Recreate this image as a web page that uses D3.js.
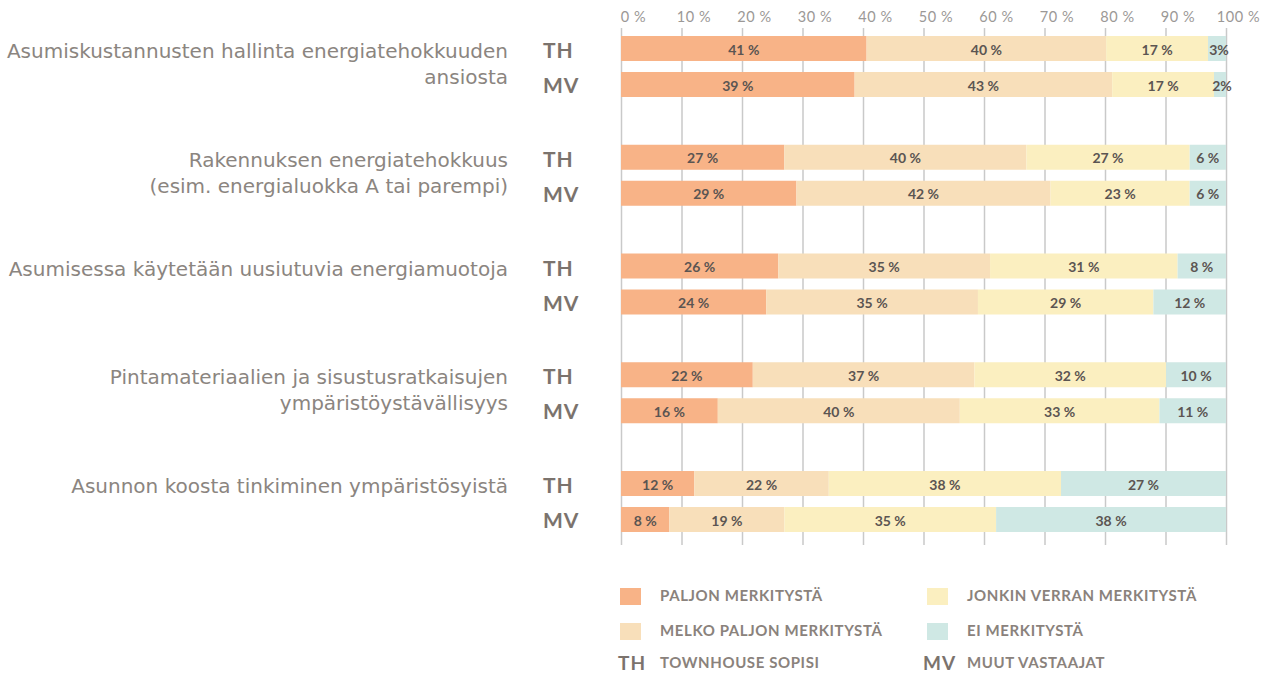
<!DOCTYPE html>
<html>
<head>
<meta charset="utf-8">
<script src="https://cdn.jsdelivr.net/npm/d3@7"></script>
<style>
  body { margin: 0; background: #fff; }
  svg { display: block; }
</style>
</head>
<body>
<svg id="chart" width="1271" height="675"></svg>
<script>
// categories (each split into lines as in the original)
const categories = [
  ["Asumiskustannusten hallinta energiatehokkuuden", "ansiosta"],
  ["Rakennuksen energiatehokkuus", "(esim. energialuokka A tai parempi)"],
  ["Asumisessa käytetään uusiutuvia energiamuotoja"],
  ["Pintamateriaalien ja sisustusratkaisujen", "ympäristöystävällisyys"],
  ["Asunnon koosta tinkiminen ympäristösyistä"]
]
const groups = ["TH", "MV"]
const series = ["PALJON MERKITYSTÄ", "MELKO PALJON MERKITYSTÄ", "JONKIN VERRAN MERKITYSTÄ", "EI MERKITYSTÄ"]
const colors = ["#f8b387", "#f8dfba", "#fbefc0", "#cfe8e4"]

// values per category: [paljon, melko, jonkin, ei]
const thValues = [
  [41, 40, 17, 3],
  [27, 40, 27, 6],
  [26, 35, 31, 8],
  [22, 37, 32, 10],
  [12, 22, 38, 27]
]
const mvValues = [
  [39, 43, 17, 2],
  [29, 42, 23, 6],
  [24, 35, 29, 12],
  [16, 40, 33, 11],
  [8, 19, 35, 38]
]
const ticks = [0, 10, 20, 30, 40, 50, 60, 70, 80, 90, 100]
const groupNames = { TH: "TOWNHOUSE SOPISI", MV: "MUUT VASTAAJAT" }

const svg = d3.select("#chart")

const x = d3.scaleLinear().domain([0, 100]).range([621, 1226])
const yGroup = d3.scaleBand()
    .domain(d3.range(categories.length))
    .range([36, 36 + 108.75 * categories.length])
const yRow = d3.scaleBand().domain(groups).range([0, 61]).paddingInner(11 / 36)

const gridTop = 28, gridBottom = 545

//axis with gridlines
const axis = svg.append("g")
    .attr("transform", "translate(0," + gridTop + ")")
    .call(d3.axisTop(x).tickValues(ticks).tickSize(-(gridBottom - gridTop)).tickFormat(d => d + " %").tickPadding(6))
axis.select(".domain").remove()
axis.selectAll(".tick line").attr("stroke", "#c9c9c9").attr("stroke-width", 1.5)
axis.selectAll(".tick text")
    .attr("dx", 12)
    .attr("fill", "#9b9896")
    .style("font-family", "Lato, sans-serif")
    .style("font-size", "14.5px")
    .style("letter-spacing", "0.6px")

// rows
const rows = []
categories.forEach((c, i) => {
    rows.push({ cat: i, grp: "TH", vals: thValues[i] })
    rows.push({ cat: i, grp: "MV", vals: mvValues[i] })
})

const rowG = svg.selectAll("g.row")
    .data(rows)
    .join("g")
    .attr("class", "row")
    .attr("transform", d => "translate(0," + (yGroup(d.cat) + yRow(d.grp)) + ")")

const bh = yRow.bandwidth()

rowG.each(function (d) {
    const total = d3.sum(d.vals)
    let acc = 0
    const segs = d.vals.map((v, k) => {
        const s = { v: v, k: k, x0: acc / total * 100, x1: (acc + v) / total * 100 }
        acc += v
        return s
    })
    const g = d3.select(this)
    g.selectAll("rect")
        .data(segs)
        .join("rect")
        .attr("x", s => x(s.x0))
        .attr("width", s => x(s.x1) - x(s.x0))
        .attr("y", 0)
        .attr("height", bh)
        .attr("fill", s => colors[s.k])
    g.selectAll("text.val")
        .data(segs)
        .join("text")
        .attr("class", "val")
        .attr("x", s => (x(s.x0) + x(s.x1)) / 2 + (s.v < 5 ? 2 : 0))
        .attr("y", bh / 2 + 1)
        .attr("dy", "0.36em")
        .attr("text-anchor", "middle")
        .attr("fill", "#5b5552")
        .style("font-family", "Lato, sans-serif")
        .style("font-weight", "bold")
        .style("font-size", "14px")
        .text(s => s.v < 5 ? s.v + "%" : s.v + " %")
    g.append("text")
        .attr("x", 543)
        .attr("y", bh / 2 + (d.grp === "MV" ? 1 : 2))
        .attr("dy", "0.36em")
        .attr("fill", "#7b736d")
        .style("font-family", "Lato, sans-serif")
        .style("font-weight", "bold")
        .style("font-size", "21px")
        .style("letter-spacing", "1px")
        .text(d.grp)
})

// category labels
svg.selectAll("text.cat")
    .data(categories)
    .join("text")
    .attr("class", "cat")
    .attr("x", 508)
    .attr("y", (d, i) => yGroup(i) + yRow("TH") + bh / 2 + 2.5)
    .attr("text-anchor", "end")
    .attr("fill", "#8b8580")
    .style("font-family", "'DejaVu Sans', sans-serif")
    .style("font-size", "20px")
    .selectAll("tspan")
    .data(d => d)
    .join("tspan")
    .attr("x", 508)
    .attr("dy", (t, j) => j === 0 ? "0.36em" : "26px")
    .text(t => t)

// legend
const legendItems = series.map((s, i) => ({
    name: s, color: colors[i], col: i < 2 ? 0 : 1,
    y: i % 2 === 0 ? 596 : 631
}))
const leg = svg.selectAll("g.leg")
    .data(legendItems)
    .join("g")
    .attr("class", "leg")
    .attr("transform", d => "translate(" + (d.col === 0 ? 620 : 927) + "," + d.y + ")")
leg.append("rect")
    .attr("x", 0).attr("y", -8)
    .attr("width", 21).attr("height", 17)
    .attr("fill", d => d.color)
leg.append("text")
    .attr("x", 40)
    .attr("dy", "0.36em")
    .attr("fill", "#8a827c")
    .style("font-family", "Lato, sans-serif")
    .style("font-weight", "bold")
    .style("font-size", "15px")
    .style("letter-spacing", "0.6px")
    .text(d => d.name)

const grpLeg = svg.selectAll("g.grpleg")
    .data(groups)
    .join("g")
    .attr("class", "grpleg")
    .attr("transform", (d, i) => "translate(" + (i === 0 ? 618 : 923) + ",663)")
grpLeg.append("text")
    .attr("dy", "0.36em")
    .attr("fill", "#7b736d")
    .style("font-family", "Lato, sans-serif")
    .style("font-weight", "bold")
    .style("font-size", "19px")
    .style("letter-spacing", "1px")
    .text(d => d)
grpLeg.append("text")
    .attr("x", (d, i) => i === 0 ? 42 : 44)
    .attr("dy", "0.36em")
    .attr("fill", "#8a827c")
    .style("font-family", "Lato, sans-serif")
    .style("font-weight", "bold")
    .style("font-size", "15px")
    .style("letter-spacing", "0.6px")
    .text(d => groupNames[d])
</script>
</body>
</html>
